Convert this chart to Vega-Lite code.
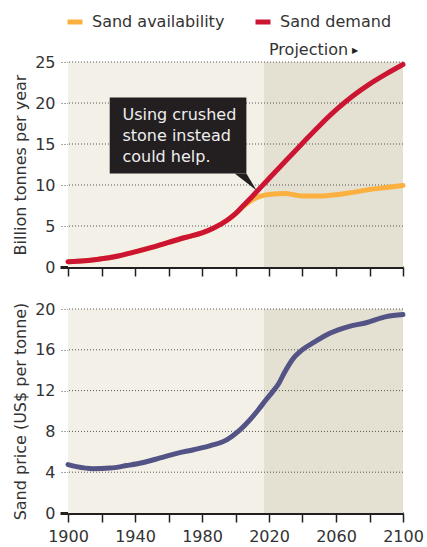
{
  "$schema": "https://vega.github.io/schema/vega-lite/v6.json",
  "autosize": {"type": "pad"},
  "padding": {"left": 12, "top": 12, "right": 3, "bottom": 2},
  "background": "white",
  "config": {
    "view": {"stroke": null},
    "font": "DejaVu Sans",
    "axis": {
      "labelFont": "DejaVu Sans", "labelFontSize": 16, "labelColor": "#333333",
      "titleFont": "DejaVu Sans", "titleFontSize": 16, "titleFontWeight": "normal", "titleColor": "#333333"
    },
    "axisX": {
      "values": [1900, 1920, 1940, 1960, 1980, 2000, 2020, 2040, 2060, 2080, 2100],
      "format": "d",
      "labelExpr": "(datum.value - 1900) % 40 == 0 ? datum.label : ''",
      "labelOverlap": false, "labelFlush": false, "labelBound": false,
      "domainColor": "#231F20", "domainWidth": 3,
      "tickColor": "#231F20", "tickWidth": 1.5, "tickSize": 9,
      "grid": false, "title": null, "labelPadding": 6
    },
    "axisY": {
      "domain": false, "grid": false,
      "tickSize": 8,
      "tickDash": {"condition": {"test": "datum.value == 0", "value": []}, "value": [1, 2]},
      "tickWidth": {"condition": {"test": "datum.value == 0", "value": 3}, "value": 1},
      "tickColor": {"condition": {"test": "datum.value == 0", "value": "#231F20"}, "value": "#555555"},
      "labelPadding": 5, "titlePadding": 6
    }
  },
  "datasets": {
    "one": [{}],
    "sand": [
      {"year": 1900, "series": "Sand availability", "value": 0.65},
      {"year": 1910, "series": "Sand availability", "value": 0.75},
      {"year": 1920, "series": "Sand availability", "value": 1.0},
      {"year": 1930, "series": "Sand availability", "value": 1.35},
      {"year": 1940, "series": "Sand availability", "value": 1.85},
      {"year": 1950, "series": "Sand availability", "value": 2.4},
      {"year": 1960, "series": "Sand availability", "value": 3.0},
      {"year": 1970, "series": "Sand availability", "value": 3.6},
      {"year": 1980, "series": "Sand availability", "value": 4.15},
      {"year": 1987, "series": "Sand availability", "value": 4.75},
      {"year": 1995, "series": "Sand availability", "value": 5.7},
      {"year": 2000, "series": "Sand availability", "value": 6.5},
      {"year": 2005, "series": "Sand availability", "value": 7.45},
      {"year": 2010, "series": "Sand availability", "value": 8.2},
      {"year": 2015, "series": "Sand availability", "value": 8.65},
      {"year": 2020, "series": "Sand availability", "value": 8.85},
      {"year": 2030, "series": "Sand availability", "value": 8.95},
      {"year": 2035, "series": "Sand availability", "value": 8.8},
      {"year": 2040, "series": "Sand availability", "value": 8.65},
      {"year": 2050, "series": "Sand availability", "value": 8.65},
      {"year": 2060, "series": "Sand availability", "value": 8.8},
      {"year": 2070, "series": "Sand availability", "value": 9.1},
      {"year": 2080, "series": "Sand availability", "value": 9.45},
      {"year": 2090, "series": "Sand availability", "value": 9.7},
      {"year": 2100, "series": "Sand availability", "value": 9.95},
      {"year": 1900, "series": "Sand demand", "value": 0.65},
      {"year": 1910, "series": "Sand demand", "value": 0.75},
      {"year": 1920, "series": "Sand demand", "value": 1.0},
      {"year": 1930, "series": "Sand demand", "value": 1.35},
      {"year": 1940, "series": "Sand demand", "value": 1.85},
      {"year": 1950, "series": "Sand demand", "value": 2.4},
      {"year": 1960, "series": "Sand demand", "value": 3.0},
      {"year": 1970, "series": "Sand demand", "value": 3.6},
      {"year": 1980, "series": "Sand demand", "value": 4.15},
      {"year": 1987, "series": "Sand demand", "value": 4.75},
      {"year": 1995, "series": "Sand demand", "value": 5.7},
      {"year": 2000, "series": "Sand demand", "value": 6.5},
      {"year": 2005, "series": "Sand demand", "value": 7.55},
      {"year": 2010, "series": "Sand demand", "value": 8.6},
      {"year": 2020, "series": "Sand demand", "value": 10.8},
      {"year": 2030, "series": "Sand demand", "value": 12.95},
      {"year": 2040, "series": "Sand demand", "value": 15.1},
      {"year": 2050, "series": "Sand demand", "value": 17.2},
      {"year": 2060, "series": "Sand demand", "value": 19.15},
      {"year": 2070, "series": "Sand demand", "value": 20.85},
      {"year": 2080, "series": "Sand demand", "value": 22.3},
      {"year": 2090, "series": "Sand demand", "value": 23.55},
      {"year": 2100, "series": "Sand demand", "value": 24.7}
    ],
    "price": [
      {"year": 1900, "price": 4.75},
      {"year": 1905, "price": 4.55},
      {"year": 1915, "price": 4.35},
      {"year": 1925, "price": 4.4},
      {"year": 1935, "price": 4.65},
      {"year": 1945, "price": 4.95},
      {"year": 1955, "price": 5.4},
      {"year": 1965, "price": 5.85},
      {"year": 1975, "price": 6.2},
      {"year": 1985, "price": 6.6},
      {"year": 1995, "price": 7.2},
      {"year": 2002, "price": 8.05},
      {"year": 2010, "price": 9.4},
      {"year": 2014, "price": 10.2},
      {"year": 2018, "price": 11.05},
      {"year": 2022, "price": 11.85},
      {"year": 2026, "price": 12.75},
      {"year": 2029, "price": 13.7},
      {"year": 2032, "price": 14.55},
      {"year": 2035, "price": 15.25},
      {"year": 2038, "price": 15.75},
      {"year": 2042, "price": 16.25},
      {"year": 2046, "price": 16.65},
      {"year": 2056, "price": 17.6},
      {"year": 2068, "price": 18.3},
      {"year": 2078, "price": 18.65},
      {"year": 2090, "price": 19.25},
      {"year": 2100, "price": 19.45}
    ],
    "gridTop": [{"g": 5}, {"g": 10}, {"g": 15}, {"g": 20}, {"g": 25}],
    "gridBottom": [{"g": 4}, {"g": 8}, {"g": 12}, {"g": 16}, {"g": 20}],
    "pointer": [
      {"px": 1999.5, "py": 11.39, "py2": 11.39},
      {"px": 2006.5, "py": 11.39, "py2": 10.29},
      {"px": 2012.5, "py": 9.35, "py2": 9.35}
    ]
  },
  "spacing": 42,
  "bounds": "flush",
  "vconcat": [
    {
      "width": 335,
      "height": 205,
      "layer": [
        {
          "data": {"name": "one"},
          "mark": {"type": "rect", "color": "#F3F0E7"},
          "encoding": {
            "x": {"datum": 1900, "type": "quantitative", "scale": {"domain": [1900, 2100], "nice": false, "zero": false}, "axis": {"labels": false}},
            "x2": {"datum": 2100},
            "y": {"datum": 0, "type": "quantitative", "scale": {"domain": [0, 25], "nice": false}, "axis": {"values": [0, 5, 10, 15, 20, 25], "title": "Billion tonnes per year"}},
            "y2": {"datum": 25}
          }
        },
        {
          "data": {"name": "one"},
          "mark": {"type": "rect", "color": "#E4E1D2"},
          "encoding": {
            "x": {"datum": 2017, "type": "quantitative"},
            "x2": {"datum": 2100},
            "y": {"datum": 0, "type": "quantitative"},
            "y2": {"datum": 25}
          }
        },
        {
          "data": {"name": "gridTop"},
          "mark": {"type": "rule", "color": "#555555", "strokeWidth": 1, "strokeDash": [1, 2]},
          "encoding": {"y": {"field": "g", "type": "quantitative"}}
        },
        {
          "data": {"name": "sand"},
          "mark": {"type": "line", "strokeWidth": 5, "strokeCap": "round", "strokeJoin": "round", "interpolate": "monotone"},
          "encoding": {
            "x": {"field": "year", "type": "quantitative"},
            "y": {"field": "value", "type": "quantitative"},
            "color": {
              "field": "series", "type": "nominal",
              "scale": {"domain": ["Sand availability", "Sand demand"], "range": ["#FBB040", "#CC1433"]},
              "legend": {
                "orient": "none", "legendX": -3, "legendY": -50, "direction": "horizontal",
                "title": null, "symbolType": "stroke", "symbolStrokeWidth": 5, "symbolSize": 225,
                "labelFont": "DejaVu Sans", "labelFontSize": 16, "labelColor": "#333333",
                "columnPadding": 20, "labelOffset": 7,
                "symbolOpacity": 1
              }
            }
          }
        },
        {
          "data": {"name": "one"},
          "mark": {"type": "rect", "color": "#231F20"},
          "encoding": {
            "x": {"datum": 1924.9, "type": "quantitative"},
            "x2": {"datum": 2006.5},
            "y": {"datum": 20.66, "type": "quantitative"},
            "y2": {"datum": 11.39}
          }
        },
        {
          "data": {"name": "pointer"},
          "mark": {"type": "area", "color": "#231F20", "interpolate": "linear"},
          "encoding": {
            "x": {"field": "px", "type": "quantitative"},
            "y": {"field": "py", "type": "quantitative"},
            "y2": {"field": "py2"}
          }
        },
        {
          "data": {"name": "one"},
          "mark": {"type": "text", "text": ["Using crushed", "stone instead", "could help."], "align": "left", "baseline": "alphabetic", "fontSize": 16, "lineHeight": 21, "color": "#EEEEEE", "font": "DejaVu Sans"},
          "encoding": {
            "x": {"datum": 1932.5, "type": "quantitative"},
            "y": {"datum": 17.98, "type": "quantitative"}
          }
        },
        {
          "data": {"name": "one"},
          "mark": {"type": "text", "text": "Projection", "align": "left", "baseline": "alphabetic", "fontSize": 16, "dy": -7, "color": "#333333", "font": "DejaVu Sans"},
          "encoding": {
            "x": {"datum": 2020, "type": "quantitative"},
            "y": {"datum": 25, "type": "quantitative"}
          }
        },
        {
          "data": {"name": "one"},
          "mark": {"type": "text", "text": "▶", "align": "left", "baseline": "alphabetic", "fontSize": 8, "dy": -9, "color": "#231F20", "font": "DejaVu Sans"},
          "encoding": {
            "x": {"datum": 2069.5, "type": "quantitative"},
            "y": {"datum": 25, "type": "quantitative"}
          }
        }
      ]
    },
    {
      "width": 335,
      "height": 204,
      "layer": [
        {
          "data": {"name": "one"},
          "mark": {"type": "rect", "color": "#F3F0E7"},
          "encoding": {
            "x": {"datum": 1900, "type": "quantitative", "scale": {"domain": [1900, 2100], "nice": false, "zero": false}},
            "x2": {"datum": 2100},
            "y": {"datum": 0, "type": "quantitative", "scale": {"domain": [0, 20], "nice": false}, "axis": {"values": [0, 4, 8, 12, 16, 20], "title": "Sand price (US$ per tonne)"}},
            "y2": {"datum": 20}
          }
        },
        {
          "data": {"name": "one"},
          "mark": {"type": "rect", "color": "#E4E1D2"},
          "encoding": {
            "x": {"datum": 2017, "type": "quantitative"},
            "x2": {"datum": 2100},
            "y": {"datum": 0, "type": "quantitative"},
            "y2": {"datum": 20}
          }
        },
        {
          "data": {"name": "gridBottom"},
          "mark": {"type": "rule", "color": "#555555", "strokeWidth": 1, "strokeDash": [1, 2]},
          "encoding": {"y": {"field": "g", "type": "quantitative"}}
        },
        {
          "data": {"name": "price"},
          "mark": {"type": "line", "strokeWidth": 5, "strokeCap": "round", "strokeJoin": "round", "interpolate": "monotone", "color": "#545386"},
          "encoding": {
            "x": {"field": "year", "type": "quantitative"},
            "y": {"field": "price", "type": "quantitative"}
          }
        }
      ]
    }
  ]
}
